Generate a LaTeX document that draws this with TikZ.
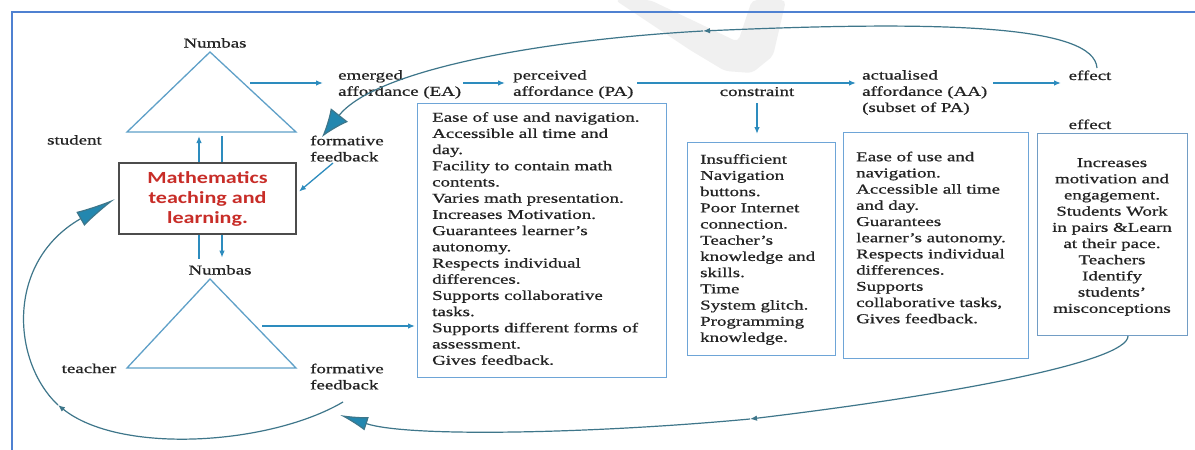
\documentclass[tikz,border=0pt]{standalone}
\usepackage{fontspec}
\setmainfont{Liberation Serif}[FakeStretch=1.4,FakeBold=0.8]
\newfontfamily\calfont{Carlito}[FakeStretch=1.3]
\usetikzlibrary{arrows.meta}

\definecolor{frameblue}{RGB}{79,129,209}
\definecolor{arrowblue}{RGB}{45,140,190}
\definecolor{boxblue}{RGB}{110,165,215}
\definecolor{curveteal}{RGB}{62,118,138}
\definecolor{headteal}{RGB}{35,135,175}
\definecolor{mathred}{RGB}{200,45,40}
\definecolor{tricol}{RGB}{95,160,200}
\definecolor{inkgray}{RGB}{35,35,35}

\begin{document}
\begin{tikzpicture}[x=1pt,y=-1pt,
  lbl/.style={inner sep=0pt, text=inkgray, font=\fontsize{13.5}{16.2}\selectfont},
  txt/.style={lbl, align=left, anchor=north west},
  infobox/.style={draw=boxblue, line width=1.4pt, inner sep=0pt, anchor=north west},
  tri/.style={draw=tricol, line width=1.3pt, line join=miter},
  flow/.style={draw=arrowblue, line width=1.3pt, -{Latex[length=7pt,width=5.5pt]}},
  plain/.style={draw=arrowblue, line width=1.3pt},
  loopline/.style={draw=curveteal, line width=1.2pt},
  midtip/.style={-{Latex[length=7pt,width=5.5pt]}},
]
\useasboundingbox (0,0) rectangle (1195,450);
\fill[white] (0,0) rectangle (1195,450);

% faint background mark
\fill[gray!12, rounded corners=5pt] (615,0) -- (650,0) -- (738,42) -- (752,0)
  -- (786,0) -- (773,56) -- (752,73) -- (725,71) -- (690,50) -- cycle;

% outer frame
\draw[frameblue, line width=2pt] (12,450) -- (12,12) -- (1195,12);

% student triangle
\coordinate (tApex) at (210,52);
\coordinate (tL) at (127,132);
\coordinate (tR) at (296,132);
\draw[tri] (tApex) -- (tR) -- (tL) -- cycle;
% teacher triangle
\coordinate (bApex) at (210,279);
\coordinate (bL) at (127,368);
\coordinate (bR) at (296,368);
\draw[tri] (bApex) -- (bR) -- (bL) -- cycle;

% central box
\node[draw=black!70, line width=1.4pt, fill=white, minimum width=177pt, minimum height=71pt,
      inner sep=0pt, align=center, text=mathred,
      font=\calfont\bfseries\fontsize{17}{20}\selectfont]
  (mtl) at (207.5,198.5) {Mathematics\\teaching and\\learning.};

% labels around the triangles
\node[lbl, anchor=base] (numbasT) at (215,47.5) {Numbas};
\node[lbl, anchor=base] (student) at (74.5,144.5) {student};
\node[txt] (ffT) at (310,135.5) {formative\\feedback};
\node[lbl, anchor=base] (numbasB) at (220,274.5) {Numbas};
\node[lbl, anchor=base] (teacher) at (89,373) {teacher};
\node[txt] (ffB) at (310,363.5) {formative\\feedback};

% affordance chain labels
\node[txt] (ea) at (338,70) {emerged\\affordance (EA)};
\node[txt] (pa) at (513,70) {perceived\\affordance (PA)};
\node[lbl, anchor=base] (constraint) at (757,96) {constraint};
\node[txt] (aa) at (862,70) {actualised\\affordance (AA)\\(subset of PA)};
\node[lbl, anchor=base] (effA) at (1090,80) {effect};
\node[lbl, anchor=base] (effB) at (1090,129) {effect};

% content boxes
\node[infobox, minimum width=249pt, minimum height=274pt] (pabox) at (417,103) {};
\node[txt] (patext) at (432,112) {Ease of use and navigation.\\Accessible all time and\\day.\\Facility to contain math\\contents.\\Varies math presentation.\\Increases Motivation.\\Guarantees learner's\\autonomy.\\Respects individual\\differences.\\Supports collaborative\\tasks.\\Supports different forms of\\assessment.\\Gives feedback.};

\node[infobox, minimum width=148pt, minimum height=213pt] (cbox) at (687,142) {};
\node[txt] (ctext) at (700,154) {Insufficient\\Navigation\\buttons.\\Poor Internet\\connection.\\Teacher's\\knowledge and\\skills.\\Time\\System glitch.\\Programming\\knowledge.};

\node[infobox, minimum width=185pt, minimum height=226pt] (aabox) at (843,132) {};
\node[txt] (aatext) at (856,151.5) {Ease of use and\\navigation.\\Accessible all time\\and day.\\Guarantees\\learner's autonomy.\\Respects individual\\differences.\\Supports\\collaborative tasks,\\Gives feedback.};

\node[infobox, draw=boxblue!80!gray, minimum width=150pt, minimum height=202pt] (efbox) at (1037,133) {};
\node[lbl, align=center, anchor=north] (eftext) at (1112,158) {Increases\\motivation and\\engagement.\\Students Work\\in pairs \&Learn\\at their pace.\\Teachers\\Identify\\students'\\misconceptions};

% straight connectors
\coordinate (t1out) at (250,83);
\coordinate (eaTo) at (323,83);
\draw[flow] (t1out) -- (eaTo);
\coordinate (eaOut) at (463,83);
\coordinate (paIn) at (505,83);
\draw[flow] (eaOut) -- (paIn);
\coordinate (paOut) at (637,83);
\coordinate (aaIn) at (856,83);
\draw[flow] (paOut) -- (aaIn);
\coordinate (aaOut) at (993,83);
\coordinate (effIn) at (1061,83);
\draw[flow] (aaOut) -- (effIn);
\draw[flow, shorten <=7pt, shorten >=8pt] (constraint.south) -- (constraint.south |- cbox.north);

\draw[flow, shorten >=4pt] ([xshift=-8.5pt]mtl.north) -- ([xshift=-8.5pt]mtl.north |- tL);
\draw[plain, shorten >=4pt] ([xshift=14.5pt]mtl.north) -- ([xshift=14.5pt]mtl.north |- tL);
\draw[plain] ([xshift=-8.5pt]mtl.south) -- ++(0,24);
\draw[flow] ([xshift=14.5pt]mtl.south) -- ++(0,23);

\coordinate (ffTout) at (333,163);
\draw[flow, shorten >=3pt] (ffTout) -- ([yshift=5pt]mtl.east);

\coordinate (t2out) at (262,326);
\draw[flow, shorten >=2pt] (t2out) -- (t2out -| pabox.west);

% feedback loops
\coordinate (loopTstart) at (1097,68);
\coordinate (loopTmid) at (703,31);
\coordinate (loopTend) at (322,137);
\draw[loopline, midtip] (loopTstart) .. controls (1094,26) and (950,20) .. (loopTmid);
\draw[loopline, -{Latex[length=28pt,width=22pt,fill=headteal]}] (loopTmid) .. controls (540,40) and (375,70) .. (loopTend);

\coordinate (loopBstart) at (1128,336);
\coordinate (loopBmid) at (750,419);
\coordinate (loopBend) at (340,415);
\draw[loopline, midtip] (loopBstart) .. controls (1128,362) and (950,395) .. (loopBmid);
\draw[loopline, -{Latex[length=28pt,width=14pt,fill=headteal]}] (loopBmid) .. controls (600,433) and (410,438) .. (loopBend);

\coordinate (loopLstart) at (343,402);
\coordinate (loopLmid) at (58,405);
\coordinate (loopLend) at (115,199);
\draw[loopline, midtip] (loopLstart) .. controls (270,445) and (120,455) .. (loopLmid);
\draw[loopline, -{Latex[length=40pt,width=16pt,fill=headteal]}] (loopLmid) .. controls (12,362) and (5,262) .. (loopLend);
\end{tikzpicture}
\end{document}
